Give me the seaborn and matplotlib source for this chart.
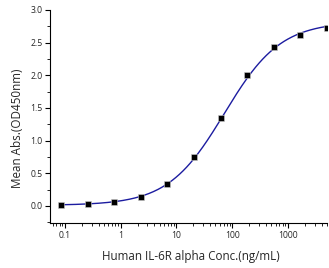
import numpy as np
import pandas as pd
import matplotlib
matplotlib.use('Agg')
import matplotlib.pyplot as plt
import seaborn as sns
from matplotlib.ticker import LogLocator, MultipleLocator, FixedLocator, FixedFormatter, NullFormatter

# measured points (3-fold dilution series)
conc = [0.0847, 0.254, 0.762, 2.29, 6.86, 20.6, 61.7, 185, 556, 1667, 5000]
absorb = [0.02, 0.03, 0.06, 0.14, 0.34, 0.75, 1.34, 2.00, 2.43, 2.62, 2.73]

# 4PL fit parameters
fit_bottom = 0.01
fit_top = 2.82
fit_ec50 = 72.0
fit_hill = 0.86

x_ticks = [0.1, 1, 10, 100, 1000]
x_labels = ['0.1', '1', '10', '100', '1000']

sns.set_theme(style='ticks')
plt.rcParams['font.family'] = ['Open Sans', 'DejaVu Sans']

df = pd.DataFrame({'conc': conc, 'abs': absorb})
xs = np.logspace(np.log10(0.08), np.log10(5000), 300)
fit = pd.DataFrame({'conc': xs,
                    'abs': fit_bottom + (fit_top - fit_bottom) / (1 + (fit_ec50 / xs) ** fit_hill)})

fig = plt.figure(figsize=(3.29, 2.68), dpi=100)
ax = fig.add_axes([0.152, 0.168, 0.842, 0.795])

sns.lineplot(data=fit, x='conc', y='abs', ax=ax, color='#1c1ca0', lw=1.0)
sns.scatterplot(data=df, x='conc', y='abs', ax=ax, marker='s', s=15, color='black',
                edgecolor='#cccccc', linewidth=0.4, zorder=3)

ax.set_xscale('log')
ax.set_xlim(0.054, 5000)
ax.set_ylim(-0.26, 3.0)
ax.xaxis.set_major_locator(FixedLocator(x_ticks))
ax.xaxis.set_major_formatter(FixedFormatter(x_labels))
ax.xaxis.set_minor_locator(LogLocator(base=10, subs=np.arange(2, 10), numticks=20))
ax.xaxis.set_minor_formatter(NullFormatter())
ax.yaxis.set_major_locator(MultipleLocator(0.5))
ax.yaxis.set_minor_locator(MultipleLocator(0.25))
ax.yaxis.set_major_formatter(plt.FuncFormatter(lambda v, p: f'{v:.1f}'))

ax.tick_params(which='major', length=3.5, width=0.8, labelsize=6.2, pad=2, color='black')
ax.tick_params(which='minor', length=2, width=0.6, color='black')
for s in ['top', 'right']:
    ax.spines[s].set_visible(False)
for s in ['left', 'bottom']:
    ax.spines[s].set_color('black')
    ax.spines[s].set_linewidth(0.8)

ax.set_xlabel('Human IL-6R alpha Conc.(ng/mL)', fontsize=8.4)
ax.set_ylabel('Mean Abs.(OD450nm)', fontsize=8.4)
ax.xaxis.set_label_coords(0.51, -0.125)
ax.yaxis.set_label_coords(-0.094, 0.446)

fig.savefig('out.png', dpi=100)
